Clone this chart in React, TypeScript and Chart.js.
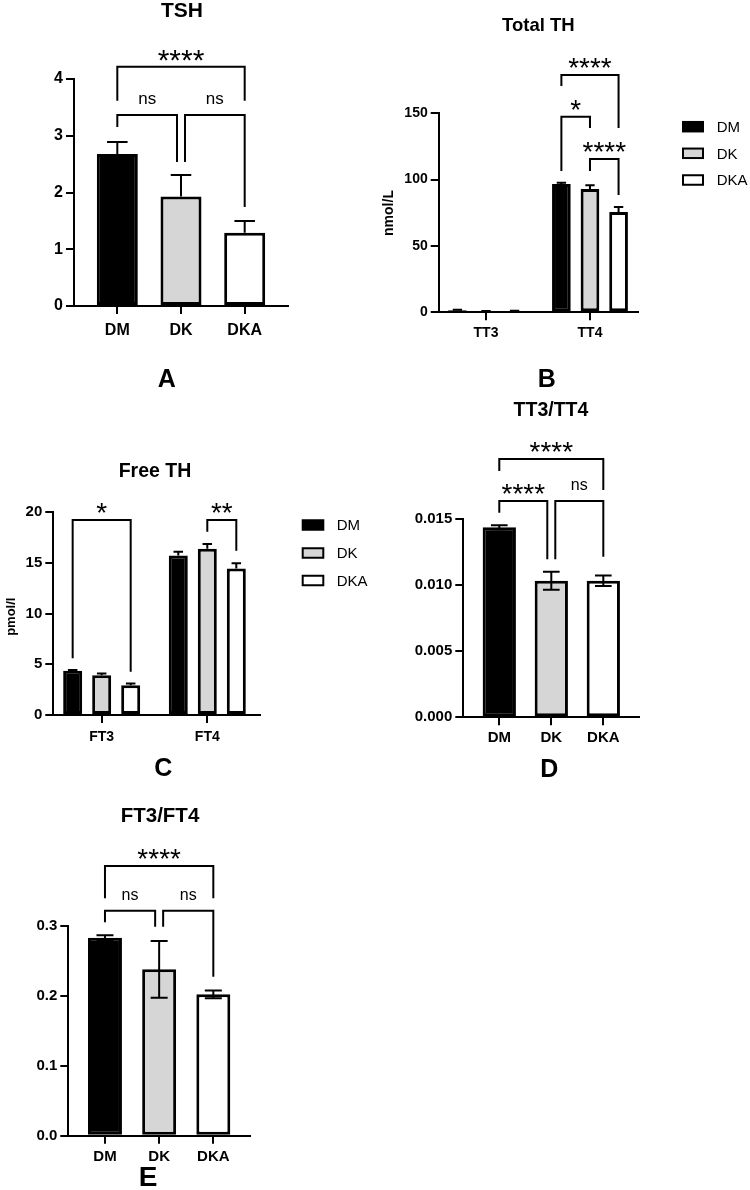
import React, { useEffect, useRef } from 'react';
import { Chart, registerables } from 'chart.js';

Chart.register(...registerables);

const FONT = "'Liberation Sans', Arial, Helvetica, sans-serif";
const W = 750;
const H = 1190;
const YW = 52;
const XH = 40;

// ---------------- data ----------------
const GROUPS = ['DM', 'DK', 'DKA'];
const GROUP_COLORS = ['#000000', '#d6d6d6', '#ffffff'];

const TSH_MEAN = [2.68, 1.93, 1.29];
const TSH_SEM = [0.21, 0.38, 0.21];
const TSH_TICKS = [0, 1, 2, 3, 4];

const TOTAL_CATS = ['TT3', 'TT4'];
const TOTAL_DM = [1.6, 96.7];
const TOTAL_DM_SEM = [0.3, 1.0];
const TOTAL_DK = [0.8, 93.0];
const TOTAL_DK_SEM = [0.1, 2.7];
const TOTAL_DKA = [1.0, 75.6];
const TOTAL_DKA_SEM = [0.15, 3.8];
const TOTAL_TICKS = [0, 50, 100, 150];

const FREE_CATS = ['FT3', 'FT4'];
const FREE_DM = [4.37, 15.73];
const FREE_DM_SEM = [0.08, 0.37];
const FREE_DK = [3.92, 16.4];
const FREE_DK_SEM = [0.18, 0.47];
const FREE_DKA = [2.93, 14.45];
const FREE_DKA_SEM = [0.17, 0.53];
const FREE_TICKS = [0, 5, 10, 15, 20];

const TT_RATIO = [0.0144, 0.01035, 0.01035];
const TT_RATIO_SEM = [0.00015, 0.00068, 0.0004];
const TT_TICKS = [0, 0.005, 0.01, 0.015];

const FT_RATIO = [0.2833, 0.238, 0.2023];
const FT_RATIO_SEM = [0.0034, 0.0405, 0.0055];
const FT_TICKS = [0, 0.1, 0.2, 0.3];

// significance brackets: a/b = [category index, dataset index]; y = bracket level, ya/yb = leg ends (data units)
const TSH_SIG = [
  { a: [0, 0], b: [2, 0], y: 4.217, ya: 3.618, yb: 3.618, label: '****' },
  { a: [0, 0], b: [1, 0], y: 3.366, ya: 3.154, yb: 2.537, label: 'ns' },
  { a: [1, 0], b: [2, 0], y: 3.366, ya: 2.537, yb: 1.744, label: 'ns' },
];
const TOTAL_SIG = [
  { a: [1, 0], b: [1, 2], y: 178.9, ya: 170.6, yb: 138.9, label: '****' },
  { a: [1, 0], b: [1, 1], y: 147.4, ya: 106.5, yb: 138.9, label: '*' },
  { a: [1, 1], b: [1, 2], y: 115.6, ya: 106.5, yb: 88.4, label: '****' },
];
const FREE_SIG = [
  { a: [0, 0], b: [0, 2], y: 19.24, ya: 5.6, yb: 4.27, label: '*' },
  { a: [1, 1], b: [1, 2], y: 19.24, ya: 18.09, yb: 16.21, label: '**' },
];
const TT_SIG = [
  { a: [0, 0], b: [2, 0], y: 0.01957, ya: 0.01866, yb: 0.01722, label: '****' },
  { a: [0, 0], b: [1, 0], y: 0.01639, ya: 0.0155, yb: 0.01197, label: '****' },
  { a: [1, 0], b: [2, 0], y: 0.01639, ya: 0.01197, yb: 0.01217, label: 'ns' },
];
const FT_SIG = [
  { a: [0, 0], b: [2, 0], y: 0.3858, ya: 0.3396, yb: 0.3396, label: '****' },
  { a: [0, 0], b: [1, 0], y: 0.3219, ya: 0.3053, yb: 0.299, label: 'ns' },
  { a: [1, 0], b: [2, 0], y: 0.3219, ya: 0.299, yb: 0.2275, label: 'ns' },
];

// ---------------- panel specs (layout & style) ----------------
type Series = { label: string; data: number[]; sem: number[]; color: string | string[] };
type Spec = {
  area: { l: number; r: number; t: number; b: number };
  xRange: [number, number];
  catPct: number;
  barPct: number;
  cats: string[];
  series: Series[];
  yTicks: number[];
  dec: number;
  errMode: 'up' | 'both';
  sig: any[];
  title: [string, number, number, number];
  letter: [string, number, number, number];
  yTitle?: [string, number, number, number];
  legend?: { x: number; ys: number[]; w: number; h: number; tx: number; size: number };
  tick: number;
  xTick: number;
  xPad: number;
  star: number;
  ns: number;
};

const SPECS: Spec[] = [
  {
    area: { l: 74, r: 288, t: 79, b: 306 },
    xRange: [-0.68, 2.68], catPct: 1, barPct: 0.644,
    cats: GROUPS,
    series: [{ label: 'TSH', data: TSH_MEAN, sem: TSH_SEM, color: GROUP_COLORS }],
    yTicks: TSH_TICKS, dec: 0, errMode: 'up', sig: TSH_SIG,
    title: ['TSH', 182, 9.5, 21], letter: ['A', 166.7, 378, 25],
    tick: 16, xTick: 16, xPad: 7, star: 30, ns: 17,
  },
  {
    area: { l: 438.7, r: 637.7, t: 113.3, b: 312.3 },
    xRange: [-0.455, 1.459], catPct: 0.825, barPct: 0.654,
    cats: TOTAL_CATS,
    series: [
      { label: GROUPS[0], data: TOTAL_DM, sem: TOTAL_DM_SEM, color: GROUP_COLORS[0] },
      { label: GROUPS[1], data: TOTAL_DK, sem: TOTAL_DK_SEM, color: GROUP_COLORS[1] },
      { label: GROUPS[2], data: TOTAL_DKA, sem: TOTAL_DKA_SEM, color: GROUP_COLORS[2] },
    ],
    yTicks: TOTAL_TICKS, dec: 0, errMode: 'up', sig: TOTAL_SIG,
    title: ['Total TH', 538.3, 24.5, 18.5], letter: ['B', 546.7, 378, 25],
    yTitle: ['nmol/L', 388.3, 213, 14],
    legend: { x: 683, ys: [126.7, 153.3, 180], w: 20, h: 9.5, tx: 716.7, size: 15 },
    tick: 14, xTick: 14, xPad: 4, star: 28, ns: 16,
  },
  {
    area: { l: 53.3, r: 260, t: 512.3, b: 715 },
    xRange: [-0.458, 1.499], catPct: 0.824, barPct: 0.655,
    cats: FREE_CATS,
    series: [
      { label: GROUPS[0], data: FREE_DM, sem: FREE_DM_SEM, color: GROUP_COLORS[0] },
      { label: GROUPS[1], data: FREE_DK, sem: FREE_DK_SEM, color: GROUP_COLORS[1] },
      { label: GROUPS[2], data: FREE_DKA, sem: FREE_DKA_SEM, color: GROUP_COLORS[2] },
    ],
    yTicks: FREE_TICKS, dec: 0, errMode: 'up', sig: FREE_SIG,
    title: ['Free TH', 155, 470, 19.5], letter: ['C', 163.3, 767.5, 25],
    yTitle: ['pmol/l', 10.7, 616.7, 13],
    legend: { x: 302.7, ys: [525, 553, 580.5], w: 20.6, h: 9.5, tx: 336.7, size: 15 },
    tick: 15, xTick: 14, xPad: 6, star: 28, ns: 16,
  },
  {
    area: { l: 463.3, r: 639.3, t: 519.3, b: 717.3 },
    xRange: [-0.692, 2.692], catPct: 1, barPct: 0.64,
    cats: GROUPS,
    series: [{ label: 'TT3/TT4', data: TT_RATIO, sem: TT_RATIO_SEM, color: GROUP_COLORS }],
    yTicks: TT_TICKS, dec: 3, errMode: 'both', sig: TT_SIG,
    title: ['TT3/TT4', 551, 409.5, 19.5], letter: ['D', 549.3, 768, 25],
    tick: 15, xTick: 15, xPad: 4, star: 28, ns: 16,
  },
  {
    area: { l: 68.3, r: 250, t: 926, b: 1135.7 },
    xRange: [-0.677, 2.677], catPct: 1, barPct: 0.627,
    cats: GROUPS,
    series: [{ label: 'FT3/FT4', data: FT_RATIO, sem: FT_RATIO_SEM, color: GROUP_COLORS }],
    yTicks: FT_TICKS, dec: 1, errMode: 'both', sig: FT_SIG,
    title: ['FT3/FT4', 160, 815, 20.5], letter: ['E', 148, 1176, 28],
    tick: 15, xTick: 15, xPad: 4, star: 28, ns: 16,
  },
];

// ---------------- drawing helpers ----------------
function capText(ctx: CanvasRenderingContext2D, text: string, x: number, cy: number, size: number, weight: string, align: CanvasTextAlign = 'center') {
  ctx.font = `${weight} ${size}px ${FONT}`;
  ctx.textAlign = align;
  ctx.textBaseline = 'alphabetic';
  ctx.fillStyle = '#000';
  ctx.fillText(text, x, cy + size * 0.358);
}

function makeErrorPlugin(spec: Spec) {
  return {
    id: 'errbars',
    afterDatasetsDraw(chart: any) {
      const ctx: CanvasRenderingContext2D = chart.ctx;
      const ys = chart.scales.y;
      ctx.save();
      ctx.strokeStyle = '#000';
      ctx.lineWidth = 2;
      ctx.lineCap = 'butt';
      chart.data.datasets.forEach((ds: any, di: number) => {
        const meta = chart.getDatasetMeta(di);
        meta.data.forEach((bar: any, i: number) => {
          const mean = ds.data[i].y;
          const e = ds.errors[i];
          const yTop = ys.getPixelForValue(mean + e);
          const yBot = spec.errMode === 'both' ? ys.getPixelForValue(mean - e) : bar.y;
          const cap = bar.width * 0.25;
          ctx.beginPath();
          ctx.moveTo(bar.x, yBot);
          ctx.lineTo(bar.x, yTop);
          ctx.moveTo(bar.x - cap, yTop);
          ctx.lineTo(bar.x + cap, yTop);
          if (spec.errMode === 'both') {
            ctx.moveTo(bar.x - cap, yBot);
            ctx.lineTo(bar.x + cap, yBot);
          }
          ctx.stroke();
        });
      });
      ctx.restore();
    },
  };
}

function makeDecorPlugin(spec: Spec) {
  return {
    id: 'decor',
    afterDraw(chart: any) {
      const ctx: CanvasRenderingContext2D = chart.ctx;
      const ys = chart.scales.y;
      ctx.save();
      // title & panel letter
      capText(ctx, spec.title[0], spec.title[1], spec.title[2], spec.title[3], 'bold');
      capText(ctx, spec.letter[0], spec.letter[1], spec.letter[2], spec.letter[3], 'bold');
      // y-axis title
      if (spec.yTitle) {
        ctx.save();
        ctx.translate(spec.yTitle[1], spec.yTitle[2]);
        ctx.rotate(-Math.PI / 2);
        capText(ctx, spec.yTitle[0], 0, 0, spec.yTitle[3], 'bold');
        ctx.restore();
      }
      // legend
      if (spec.legend) {
        const lg = spec.legend;
        chart.data.datasets.forEach((ds: any, i: number) => {
          const cy = lg.ys[i];
          ctx.fillStyle = ds.backgroundColor;
          ctx.fillRect(lg.x, cy - lg.h / 2, lg.w, lg.h);
          ctx.strokeStyle = '#000';
          ctx.lineWidth = 2;
          ctx.strokeRect(lg.x, cy - lg.h / 2, lg.w, lg.h);
          capText(ctx, ds.label, lg.tx, cy, lg.size, 'normal', 'left');
        });
      }
      // significance brackets
      const px = (p: number[]) => chart.getDatasetMeta(p[1]).data[p[0]].x;
      const same = (p: number[], q: number[]) => p[0] === q[0] && p[1] === q[1];
      spec.sig.forEach((s: any) => {
        let xa = px(s.a);
        let xb = px(s.b);
        if (spec.sig.some((o: any) => o !== s && o.y === s.y && same(o.b, s.a))) xa += 4;
        if (spec.sig.some((o: any) => o !== s && o.y === s.y && same(o.a, s.b))) xb -= 4;
        const yl = ys.getPixelForValue(s.y);
        ctx.beginPath();
        ctx.strokeStyle = '#000';
        ctx.lineWidth = 2;
        ctx.lineJoin = 'miter';
        ctx.moveTo(xa, ys.getPixelForValue(s.ya));
        ctx.lineTo(xa, yl);
        ctx.lineTo(xb, yl);
        ctx.lineTo(xb, ys.getPixelForValue(s.yb));
        ctx.stroke();
        const cx = (xa + xb) / 2;
        ctx.fillStyle = '#000';
        ctx.textAlign = 'center';
        ctx.textBaseline = 'alphabetic';
        if (/^\*+$/.test(s.label)) {
          ctx.font = `normal ${spec.star}px ${FONT}`;
          ctx.fillText(s.label, cx, yl - 14 + 0.58 * spec.star);
        } else {
          ctx.font = `normal ${spec.ns}px ${FONT}`;
          ctx.fillText(s.label, cx, yl - 11);
        }
      });
      ctx.restore();
    },
  };
}

function buildConfig(spec: Spec): any {
  const axisGrid = {
    display: true,
    drawOnChartArea: false,
    drawTicks: true,
    tickLength: 8,
    tickColor: '#000',
    tickWidth: 2,
    color: '#000',
    lineWidth: 2,
    offset: false,
  };
  const border = { display: true, color: '#000', width: 2 };
  const yw = Math.min(YW, spec.area.l);
  const datasets = spec.series.map((s) => ({
    label: s.label,
    data: s.data.map((v, i) => ({ x: i, y: v })),
    errors: s.sem,
    backgroundColor: s.color,
    borderColor: '#000',
    borderWidth: 3,
    borderSkipped: false,
    categoryPercentage: spec.catPct,
    barPercentage: spec.barPct,
  }));
  return {
    type: 'bar',
    data: { datasets },
    options: {
      responsive: false,
      animation: false,
      devicePixelRatio: 1,
      layout: {
        padding: {
          left: spec.area.l - yw,
          right: W - spec.area.r,
          top: spec.area.t,
          bottom: H - spec.area.b - XH,
        },
      },
      plugins: {
        legend: { display: false },
        title: { display: false },
        tooltip: { enabled: false },
      },
      scales: {
        x: {
          type: 'linear',
          min: spec.xRange[0],
          max: spec.xRange[1],
          offset: false,
          afterBuildTicks: (sc: any) => {
            sc.ticks = spec.cats.map((_, i) => ({ value: i }));
          },
          afterFit: (sc: any) => {
            sc.height = XH;
          },
          ticks: {
            autoSkip: false,
            maxRotation: 0,
            minRotation: 0,
            padding: spec.xPad,
            color: '#000',
            font: { family: FONT, size: spec.xTick, weight: 'bold' },
            callback: (v: any) => spec.cats[Math.round(Number(v))] ?? '',
          },
          grid: axisGrid,
          border,
        },
        y: {
          type: 'linear',
          min: 0,
          max: spec.yTicks[spec.yTicks.length - 1],
          afterBuildTicks: (sc: any) => {
            sc.ticks = spec.yTicks.map((v) => ({ value: v }));
          },
          afterFit: (sc: any) => {
            sc.width = yw;
          },
          ticks: {
            padding: 3,
            color: '#000',
            font: { family: FONT, size: spec.tick, weight: 'bold' },
            callback: (v: any) => Number(v).toFixed(spec.dec),
          },
          grid: axisGrid,
          border,
        },
      },
    },
    plugins: [makeErrorPlugin(spec), makeDecorPlugin(spec)],
  };
}

function Panel({ spec }: { spec: Spec }) {
  const ref = useRef<HTMLCanvasElement>(null);
  useEffect(() => {
    const chart = new Chart(ref.current as HTMLCanvasElement, buildConfig(spec));
    return () => chart.destroy();
  }, [spec]);
  return (
    <canvas
      ref={ref}
      width={W}
      height={H}
      style={{ position: 'absolute', left: 0, top: 0, width: W, height: H }}
    />
  );
}

export default function App() {
  return (
    <div style={{ position: 'absolute', left: 0, top: 0, width: W, height: H, background: '#fff', overflow: 'hidden' }}>
      {SPECS.map((s, i) => (
        <Panel key={i} spec={s} />
      ))}
    </div>
  );
}
